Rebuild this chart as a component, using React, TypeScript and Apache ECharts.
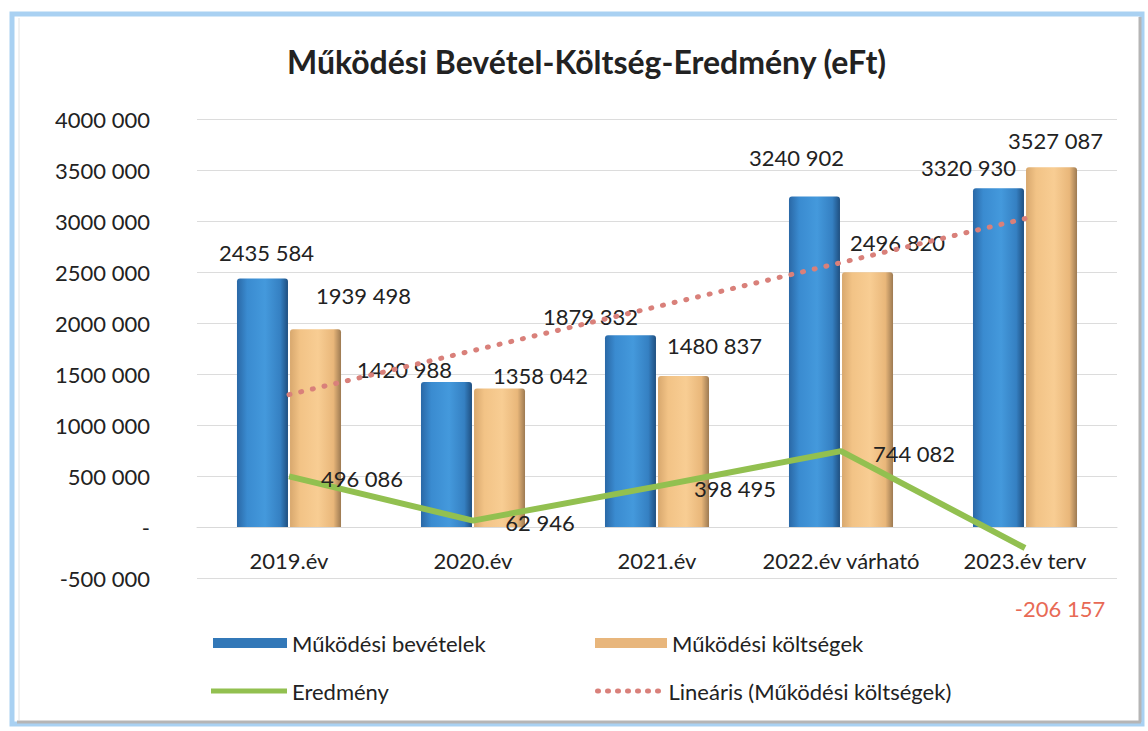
import React, { useEffect, useRef } from "react";
import * as echarts from "echarts";

const categories = ["2019.év", "2020.év", "2021.év", "2022.év várható", "2023.év terv"];
const revenues = [2435584, 1420988, 1879332, 3240902, 3320930];
const costs = [1939498, 1358042, 1480837, 2496820, 3527087];
const results = [496086, 62946, 398495, 744082, -206157];
const costTrend = [1297666, 1729061, 2160457, 2591852, 3023248];

const revenueLabelOffsets = [[4, -14], [-42, -1], [-40, -7], [-18, -27], [-30, -9]];
const costLabelOffsets = [[48, -22], [41, -1], [31, -18], [30, -18], [4, -15]];
const resultLabelOffsets = [[73, 2], [67, 2], [78, 2], [73, 2], [35, 60]];

const FONT = "Lato";

function fmt(v: number): string {
  if (v === 0) return "-";
  const sign = v < 0 ? "-" : "";
  const a = Math.abs(v);
  if (a < 1000) return sign + a;
  const hi = Math.floor(a / 1000);
  const lo = String(a % 1000).padStart(3, "0");
  return sign + hi + " " + lo;
}

export default function App() {
  const ref = useRef<HTMLDivElement>(null);
  useEffect(() => {
    if (!ref.current) return;
    const chart = echarts.init(ref.current, null, { renderer: "svg" });
    const blue = new echarts.graphic.LinearGradient(0, 0, 1, 0, [
      { offset: 0, color: "#2a68a6" },
      { offset: 0.2, color: "#3a8bd0" },
      { offset: 0.55, color: "#4499dc" },
      { offset: 0.85, color: "#3580c2" },
      { offset: 1, color: "#1f4f80" },
    ]);
    const tan = new echarts.graphic.LinearGradient(0, 0, 1, 0, [
      { offset: 0, color: "#d8a86e" },
      { offset: 0.2, color: "#f2c386" },
      { offset: 0.55, color: "#f8cd93" },
      { offset: 0.85, color: "#e9b77a" },
      { offset: 1, color: "#9d7a52" },
    ]);
    const labelBase = { fontFamily: FONT, fontSize: 22, color: "#222", lineHeight: 24 };
    const legendText = { fontFamily: FONT, fontSize: 22, color: "#222" };
    const option: any = {
      animation: false,
      backgroundColor: "#fff",
      title: {
        text: "Működési Bevétel-Költség-Eredmény (eFt)",
        left: 287,
        top: 45,
        padding: 0,
        textStyle: { fontFamily: FONT, fontSize: 32, fontWeight: "bold", color: "#222" },
      },
      graphic: [
        { type: "rect", z: -10, shape: { x: 12, y: 14, width: 1130, height: 710 }, style: { fill: "none", stroke: "#a9d1f2", lineWidth: 5 } },
        { type: "line", z: -9, shape: { x1: 1140, y1: 17, x2: 1140, y2: 722 }, style: { stroke: "#b5b5b5", lineWidth: 3 } },
        { type: "line", z: -9, shape: { x1: 17, y1: 722, x2: 1141, y2: 722 }, style: { stroke: "#b5b5b5", lineWidth: 3 } },
        { type: "line", z: -9, shape: { x1: 19, y1: 18, x2: 19, y2: 720 }, style: { stroke: "#e2e2e2", lineWidth: 1 } },
      ],
      grid: { left: 197, right: 31, top: 119, bottom: 153, containLabel: false },
      xAxis: {
        type: "category",
        data: categories,
        axisLine: { onZero: true, lineStyle: { color: "#d9d9d9", width: 1 } },
        axisTick: { show: false },
        axisLabel: { fontFamily: FONT, fontSize: 22, color: "#222", margin: -29, interval: 0 },
      },
      yAxis: {
        type: "value",
        min: -500000,
        max: 4000000,
        interval: 500000,
        axisLine: { show: false },
        axisTick: { show: false },
        axisLabel: { fontFamily: FONT, fontSize: 22, color: "#222", margin: 47, formatter: (v: number) => fmt(v) },
        splitLine: { lineStyle: { color: "#dcdcdc", width: 1 } },
      },
      legend: [
        { left: 213, top: 632, padding: 0, itemWidth: 74, itemHeight: 10, textStyle: legendText, data: [{ name: "Működési bevételek", icon: "rect", itemStyle: { color: "#3278b8" } }] },
        { left: 595, top: 632, padding: 0, itemWidth: 72, itemHeight: 10, textStyle: legendText, data: [{ name: "Működési költségek", icon: "rect", itemStyle: { color: "#e8b67c" } }] },
        { left: 211, top: 680, padding: 0, itemWidth: 76, itemHeight: 5, textStyle: legendText, data: [{ name: "Eredmény", icon: "rect", itemStyle: { color: "#92c050" } }] },
        {
          left: 595, top: 680, padding: 0, itemWidth: 66, itemHeight: 10, textStyle: legendText,
          data: [{ name: "Lineáris (Működési költségek)", itemStyle: { color: "rgba(0,0,0,0)", opacity: 0, borderWidth: 0 }, lineStyle: { color: "#d9807a", width: 5, type: [1, 9], cap: "round" } }],
        },
      ],
      series: [
        {
          name: "Működési bevételek",
          type: "bar",
          barWidth: 51,
          barGap: "4%",
          itemStyle: { color: blue, borderRadius: [3, 3, 0, 0] },
          data: revenues.map((v, i) => ({
            value: v,
            label: { show: true, position: "top", distance: 0, offset: revenueLabelOffsets[i], formatter: () => fmt(v), ...labelBase },
          })),
        },
        {
          name: "Működési költségek",
          type: "bar",
          barWidth: 51,
          barGap: "4%",
          itemStyle: { color: tan, borderRadius: [3, 3, 0, 0] },
          data: costs.map((v, i) => ({
            value: v,
            label: { show: true, position: "top", distance: 0, offset: costLabelOffsets[i], formatter: () => fmt(v), ...labelBase },
          })),
        },
        {
          name: "Eredmény",
          type: "line",
          symbol: "circle",
          symbolSize: 1,
          itemStyle: { color: "rgba(0,0,0,0)" },
          lineStyle: { color: "#92c050", width: 6 },
          z: 5,
          data: results.map((v, i) => ({
            value: v,
            label: {
              show: true,
              position: "inside",
              offset: resultLabelOffsets[i],
              formatter: () => fmt(v),
              ...labelBase,
              color: v < 0 ? "#e86a55" : "#222",
            },
          })),
        },
        {
          name: "Lineáris (Működési költségek)",
          type: "line",
          symbol: "none",
          z: 4,
          itemStyle: { color: "#d9807a" },
          lineStyle: { color: "#d9807a", width: 5, type: [1, 11], cap: "round" },
          data: costTrend,
        },
      ],
    };
    chart.setOption(option);
    return () => chart.dispose();
  }, []);
  return (
    <div
      ref={ref}
      style={{ position: "fixed", left: 0, top: 0, width: 1148, height: 731, background: "#fff" }}
    />
  );
}
